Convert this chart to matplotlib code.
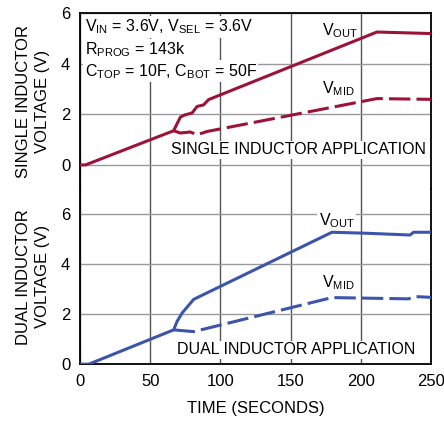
import matplotlib
matplotlib.use('Agg')
import matplotlib.pyplot as plt
from matplotlib import font_manager

# narrow Helvetica-like font if there is one, else Liberation Sans
names = {f.name for f in font_manager.fontManager.ttflist}
fam = 'Liberation Sans Narrow' if 'Liberation Sans Narrow' in names else 'Liberation Sans'
fs = 13 if fam.endswith('Narrow') else 11.5

plt.rcParams['font.family'] = [fam, 'DejaVu Sans']
plt.rcParams['mathtext.fontset'] = 'custom'
plt.rcParams['mathtext.rm'] = fam
plt.rcParams['mathtext.it'] = fam
plt.rcParams['mathtext.default'] = 'rm'

# single inductor application
single_vout_t = [0, 4, 66.7, 71.5, 75, 79.8, 83.4, 88, 91.6, 211.4, 250]
single_vout_v = [0, 0, 1.35, 1.89, 1.98, 2.05, 2.31, 2.37, 2.58, 5.25, 5.19]
single_vmid_t = [66.7, 71.5, 78.6, 83.4, 90.5, 211.4, 250]
single_vmid_v = [1.35, 1.26, 1.30, 1.19, 1.32, 2.62, 2.59]

# dual inductor application
dual_vout_t = [0, 6.3, 66.7, 69.1, 72.7, 81, 179.4, 204, 235, 237.5, 250]
dual_vout_v = [0, 0, 1.37, 1.70, 2.04, 2.59, 5.27, 5.23, 5.16, 5.27, 5.27]
dual_vmid_t = [66.7, 81, 179.4, 233.8, 238.6, 250]
dual_vmid_v = [1.37, 1.30, 2.66, 2.61, 2.70, 2.67]

xticks = [0, 50, 100, 150, 200, 250]
yticks = [0, 2, 4, 6]

red = '#9b1437'
blue = '#3c55aa'

fig = plt.figure(figsize=(4.44, 4.21), dpi=100)
ax1 = fig.add_axes([0.180, 0.550, 0.791, 0.419])
ax2 = fig.add_axes([0.180, 0.135, 0.791, 0.415])

box = dict(facecolor='white', edgecolor='none', pad=1)

for ax in (ax1, ax2):
    ax.set_xlim(0, 250)
    ax.set_xticks(xticks)
    ax.set_yticks(yticks)
    ax.tick_params(length=0, labelsize=fs + 0.5, pad=7)
    ax.grid(True, axis='x', color='#555555', lw=1)
    ax.grid(True, axis='y', color='#999999', lw=1)
    ax.set_axisbelow(True)
    for s in ax.spines.values():
        s.set_linewidth(1.3)

ax1.set_ylim(-0.97, 6)
ax2.set_ylim(0, 6.98)
ax1.spines['bottom'].set_visible(False)
ax2.spines['top'].set_visible(False)
ax1.tick_params(labelbottom=False)

ax1.plot(single_vout_t, single_vout_v, color=red, lw=2.2, solid_capstyle='round', zorder=3)
ax1.plot(single_vmid_t, single_vmid_v, color=red, lw=2.2, dashes=(7, 2), zorder=3)
ax2.plot(dual_vout_t, dual_vout_v, color=blue, lw=2.2, solid_capstyle='round', zorder=3)
ax2.plot(dual_vmid_t, dual_vmid_v, color=blue, lw=2.2, dashes=(7, 2), zorder=3)

# annotations, top panel (under the curves, over the grid)
ax1.text(3.5, 5.45, r'V$_{IN}$ = 3.6V, V$_{SEL}$ = 3.6V', fontsize=fs, va='center', zorder=2.5,
         bbox=box)
ax1.text(3.5, 4.55, r'R$_{PROG}$ = 143k', fontsize=fs, va='center', zorder=2.5, bbox=box)
ax1.text(3.5, 3.7, r'C$_{TOP}$ = 10F, C$_{BOT}$ = 50F', fontsize=fs, va='center', zorder=2.5,
         bbox=box)
ax1.text(172, 5.3, r'V$_{OUT}$', fontsize=fs, va='center', zorder=2.5, bbox=box)
ax1.text(172, 3.0, r'V$_{MID}$', fontsize=fs, va='center', zorder=2.5, bbox=box)
ax1.text(65, 0.6, 'SINGLE INDUCTOR APPLICATION', fontsize=fs, va='center', zorder=2.5, bbox=box)

# annotations, bottom panel
ax2.text(170, 5.75, r'V$_{OUT}$', fontsize=fs, va='center', zorder=2.5, bbox=box)
ax2.text(172, 3.25, r'V$_{MID}$', fontsize=fs, va='center', zorder=2.5, bbox=box)
ax2.text(69, 0.57, 'DUAL INDUCTOR APPLICATION', fontsize=fs, va='center', zorder=2.5, bbox=box)

ax1.set_ylabel('SINGLE INDUCTOR\nVOLTAGE (V)', fontsize=fs + 0.5, labelpad=8, linespacing=1.3)
ax2.set_ylabel('DUAL INDUCTOR\nVOLTAGE (V)', fontsize=fs + 0.5, labelpad=8, linespacing=1.3)
ax2.set_xlabel('TIME (SECONDS)', fontsize=fs + 0.5, labelpad=9)

fig.savefig('out.png', dpi=100)
